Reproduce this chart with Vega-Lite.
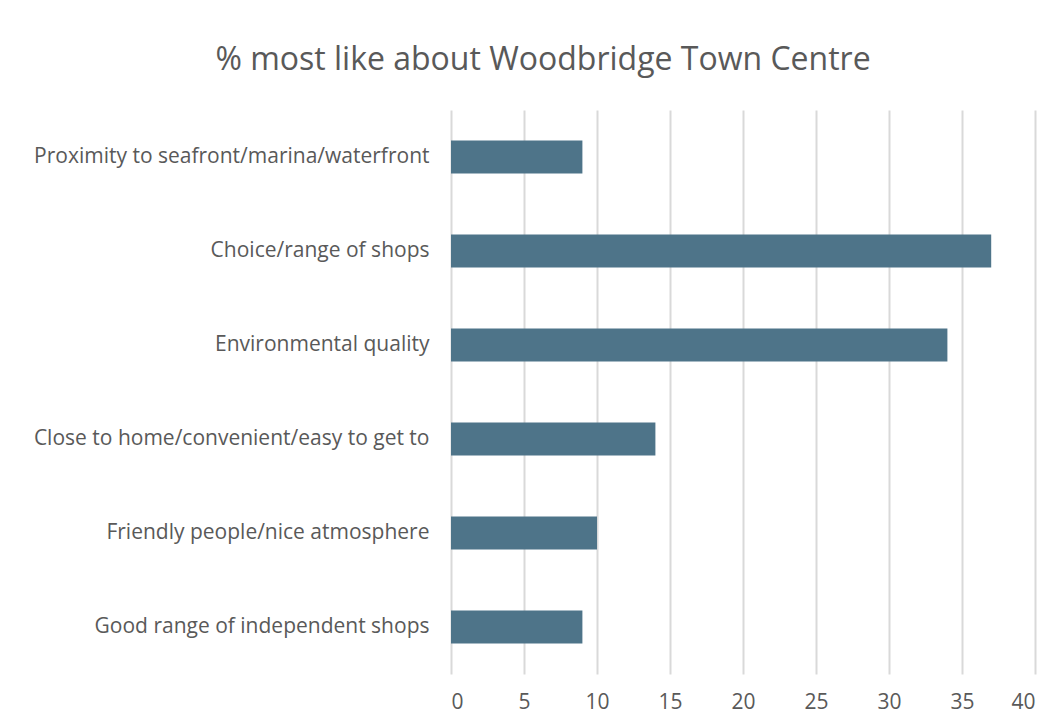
{
  "$schema": "https://vega.github.io/schema/vega-lite/v6.json",
  "width": 584,
  "height": 564,
  "autosize": {"type": "none"},
  "padding": {"left": 451, "top": 110, "right": 26, "bottom": 52},
  "background": "white",
  "title": {
    "text": "% most like about Woodbridge Town Centre",
    "anchor": "middle",
    "dx": -200,
    "offset": 33,
    "font": "Open Sans",
    "fontSize": 32,
    "fontWeight": "normal",
    "color": "#595959"
  },
  "data": {
    "values": [
      {"item": "Proximity to seafront/marina/waterfront", "pct": 9},
      {"item": "Choice/range of shops", "pct": 37},
      {"item": "Environmental quality", "pct": 34},
      {"item": "Close to home/convenient/easy to get to", "pct": 14},
      {"item": "Friendly people/nice atmosphere", "pct": 10},
      {"item": "Good range of independent shops", "pct": 9}
    ]
  },
  "mark": {"type": "bar", "color": "#4e7489"},
  "encoding": {
    "y": {
      "field": "item",
      "type": "nominal",
      "sort": null,
      "title": null,
      "scale": {"paddingInner": 0.65, "paddingOuter": 0.325},
      "axis": {
        "ticks": false,
        "domain": false,
        "labelPadding": 22,
        "labelFont": "Open Sans",
        "labelFontSize": 21,
        "labelColor": "#595959",
        "labelLimit": 500
      }
    },
    "x": {
      "field": "pct",
      "type": "quantitative",
      "title": null,
      "scale": {"domain": [0, 40], "nice": false},
      "axis": {
        "values": [0, 5, 10, 15, 20, 25, 30, 35, 40],
        "ticks": false,
        "domain": false,
        "grid": true,
        "gridColor": "#d9d9d9",
        "gridWidth": 2,
        "labelPadding": 17,
        "labelFont": "Open Sans",
        "labelFontSize": 21,
        "labelColor": "#595959"
      }
    }
  },
  "config": {"view": {"stroke": null}}
}
